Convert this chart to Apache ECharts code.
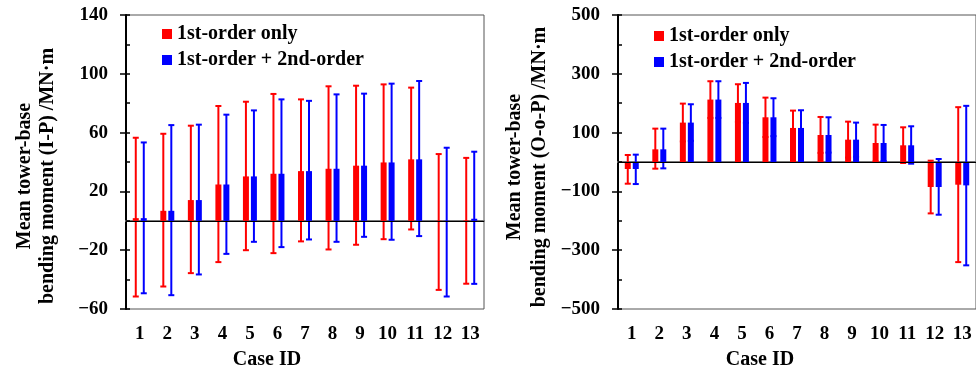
<!DOCTYPE html>
<html>
<head>
<meta charset="utf-8">
<script src="https://cdn.jsdelivr.net/npm/echarts@6/dist/echarts.min.js"></script>
<style>
  html, body { margin: 0; padding: 0; background: #fff; }
  #chart { width: 976px; height: 372px; }
</style>
</head>
<body>
<div id="chart"></div>
<script>
// case ids
const caseIds = ['1', '2', '3', '4', '5', '6', '7', '8', '9', '10', '11', '12', '13'];
const seriesNames = ['1st-order only', '1st-order + 2nd-order'];

// in-plane (I-P) mean moment and error range
const ipMean1 = [1.8, 6.8, 14.1, 24.7, 30.2, 32.0, 33.8, 35.4, 37.5, 39.7, 41.8, -0.6, 0.3];
const ipMean2 = [1.8, 6.8, 14.1, 24.7, 30.2, 32.0, 33.8, 35.4, 37.5, 39.7, 41.8, -0.6, 1.4];
const ipLow1 = [-51.5, -44.7, -35.6, -28.1, -20.0, -22.0, -14.0, -19.5, -16.3, -12.5, -5.9, -47.0, -42.8];
const ipHigh1 = [56.5, 59.2, 64.7, 78.1, 81.0, 86.3, 82.6, 91.5, 91.9, 92.8, 90.6, 45.4, 42.8];
const ipLow2 = [-49.3, -50.6, -36.5, -22.5, -14.3, -17.9, -12.7, -14.3, -10.9, -12.9, -10.4, -51.5, -42.9];
const ipHigh2 = [53.3, 65.1, 65.4, 72.2, 75.1, 82.6, 81.6, 86.0, 86.5, 93.3, 95.1, 49.7, 47.0];

// out-of-plane (O-o-P) mean moment and error range
const oopMean1 = [-23.8, 43.1, 134, 212.3, 200.9, 152.1, 115.8, 91.9, 76, 64.7, 56.8, -85, -77.2];
const oopMean2 = [-23.8, 43.1, 134, 212.3, 200.9, 152.1, 115.8, 91.9, 76, 64.7, 56.8, -85, -79.5];
const oopLow1 = [-73.8, -22.7, 70, 150, 137, 85, 57, 31, 15, 2, -3.4, -174.8, -340.5];
const oopHigh1 = [23.8, 113.5, 198.6, 274.7, 264.5, 219, 174.8, 153.2, 137.3, 127.1, 118, 4.5, 186.5];
const oopLow2 = [-75, -21.6, 72, 150, 133, 88, 56, 32, 18, 3, -5.7, -179.3, -351.5];
const oopHigh2 = [25, 113.5, 196.4, 274.7, 269, 216.8, 176, 152.1, 134, 126, 121.5, 10.2, 191];

// axis ticks
const ipMajorTicks = [-60, -20, 20, 60, 100, 140];
const oopMajorTicks = [-500, -300, -100, 100, 300, 500];

const RED = '#ff0000';
const BLUE = '#0000ff';
const FONT = 'Liberation Serif';

const chart = echarts.init(document.getElementById('chart'));

const fmt = (v) => String(v).replace('-', '\u2212');

// whisker + caps, shifted to sit on its bar
const errItem = (offset) => (params, api) => {
  const idx = api.value(0);
  const lo = api.coord([idx, api.value(1)]);
  const hi = api.coord([idx, api.value(2)]);
  const cx = lo[0] + offset;
  const style = { stroke: api.visual('color'), lineWidth: 2 };
  return {
    type: 'group',
    children: [
      { type: 'line', shape: { x1: cx, y1: lo[1], x2: cx, y2: hi[1] }, style },
      { type: 'line', shape: { x1: cx - 3, y1: lo[1], x2: cx + 3, y2: lo[1] }, style },
      { type: 'line', shape: { x1: cx - 3, y1: hi[1], x2: cx + 3, y2: hi[1] }, style },
    ],
  };
};

const zip = (lo, hi) => lo.map((v, i) => [i, v, hi[i]]);

const mainY = (min, max, ticks, gridIndex) => ({
  type: 'value',
  gridIndex,
  min,
  max,
  position: 'left',
  axisLine: { show: true, lineStyle: { color: '#000', width: 2 } },
  axisTick: { show: true, inside: false, length: 6, customValues: ticks, lineStyle: { color: '#000', width: 1.5 } },
  axisLabel: {
    customValues: ticks,
    formatter: fmt,
    margin: 18,
    color: '#000',
    fontFamily: FONT,
    fontWeight: 'bold',
    fontSize: 19,
  },
  splitLine: { show: false },
});

// inside ticks at every step (majors cross the axis, minors inside only)
const minorY = (min, max, interval, gridIndex) => ({
  type: 'value',
  gridIndex,
  min,
  max,
  interval,
  position: 'left',
  axisLine: { show: false },
  axisTick: { show: true, inside: true, length: 4, lineStyle: { color: '#000', width: 1.5 } },
  axisLabel: { show: false },
  splitLine: { show: false },
});

const catX = (gridIndex) => ({
  type: 'category',
  gridIndex,
  data: caseIds,
  axisLine: { show: true, lineStyle: { color: '#777', width: 2 } },
  axisTick: { show: false },
  axisLabel: { margin: 16, color: '#000', fontFamily: FONT, fontWeight: 'bold', fontSize: 19 },
  splitLine: { show: false },
});

const zeroLine = {
  silent: true,
  symbol: 'none',
  label: { show: false },
  lineStyle: { color: '#000', width: 1, type: 'solid' },
  data: [{ yAxis: 0 }],
};

const barSeries = (name, data, color, xi, yi, withZero) => ({
  name,
  type: 'bar',
  xAxisIndex: xi,
  yAxisIndex: yi,
  data,
  barWidth: 6,
  barGap: '33%',
  itemStyle: { color },
  z: 3,
  markLine: withZero ? zeroLine : undefined,
});

const errSeries = (data, color, offset, xi, yi) => ({
  name: 'err',
  type: 'custom',
  xAxisIndex: xi,
  yAxisIndex: yi,
  data,
  itemStyle: { color },
  renderItem: errItem(offset),
  z: 2,
});

const legendText = { fontFamily: FONT, fontWeight: 'bold', fontSize: 20, color: '#000', lineHeight: 20 };

const titleText = (x, y, text, rot) => ({
  type: 'text',
  x,
  y,
  rotation: rot,
  style: {
    text,
    fill: '#000',
    font: 'bold 20px "Liberation Serif"',
    align: 'center',
    verticalAlign: 'middle',
  },
});

const option = {
  animation: false,
  grid: [
    { left: 126, top: 15, width: 358, height: 294, show: true, borderColor: '#555', borderWidth: 1 },
    { left: 618, top: 15, width: 359, height: 294, show: true, borderColor: '#555', borderWidth: 1 },
  ],
  legend: [
    {
      left: 157, top: 19, orient: 'vertical', icon: 'rect', itemWidth: 10, itemHeight: 10,
      itemGap: 6, data: seriesNames, textStyle: legendText, selectedMode: false,
    },
    {
      left: 649, top: 21, orient: 'vertical', icon: 'rect', itemWidth: 10, itemHeight: 10,
      itemGap: 6, data: seriesNames, textStyle: legendText, selectedMode: false,
    },
  ],
  xAxis: [catX(0), catX(1)],
  yAxis: [
    mainY(-60, 140, ipMajorTicks, 0),
    minorY(-60, 140, 20, 0),
    mainY(-500, 500, oopMajorTicks, 1),
    minorY(-500, 500, 100, 1),
  ],
  series: [
    errSeries(zip(ipLow1, ipHigh1), RED, -4, 0, 0),
    errSeries(zip(ipLow2, ipHigh2), BLUE, 4, 0, 0),
    barSeries(seriesNames[0], ipMean1, RED, 0, 0, true),
    barSeries(seriesNames[1], ipMean2, BLUE, 0, 0, false),
    errSeries(zip(oopLow1, oopHigh1), RED, -4, 1, 2),
    errSeries(zip(oopLow2, oopHigh2), BLUE, 4, 1, 2),
    barSeries(seriesNames[0], oopMean1, RED, 1, 2, true),
    barSeries(seriesNames[1], oopMean2, BLUE, 1, 2, false),
  ],
  graphic: [
    titleText(25, 176, 'Mean tower-base', Math.PI / 2),
    titleText(48, 176, 'bending moment (I-P) /MN\u00b7m', Math.PI / 2),
    titleText(267, 360, 'Case ID', 0),
    titleText(515, 167, 'Mean tower-base', Math.PI / 2),
    titleText(540, 167, 'bending moment (O-o-P) /MN\u00b7m', Math.PI / 2),
    titleText(760, 360, 'Case ID', 0),
  ],
};

chart.setOption(option);
</script>
</body>
</html>
